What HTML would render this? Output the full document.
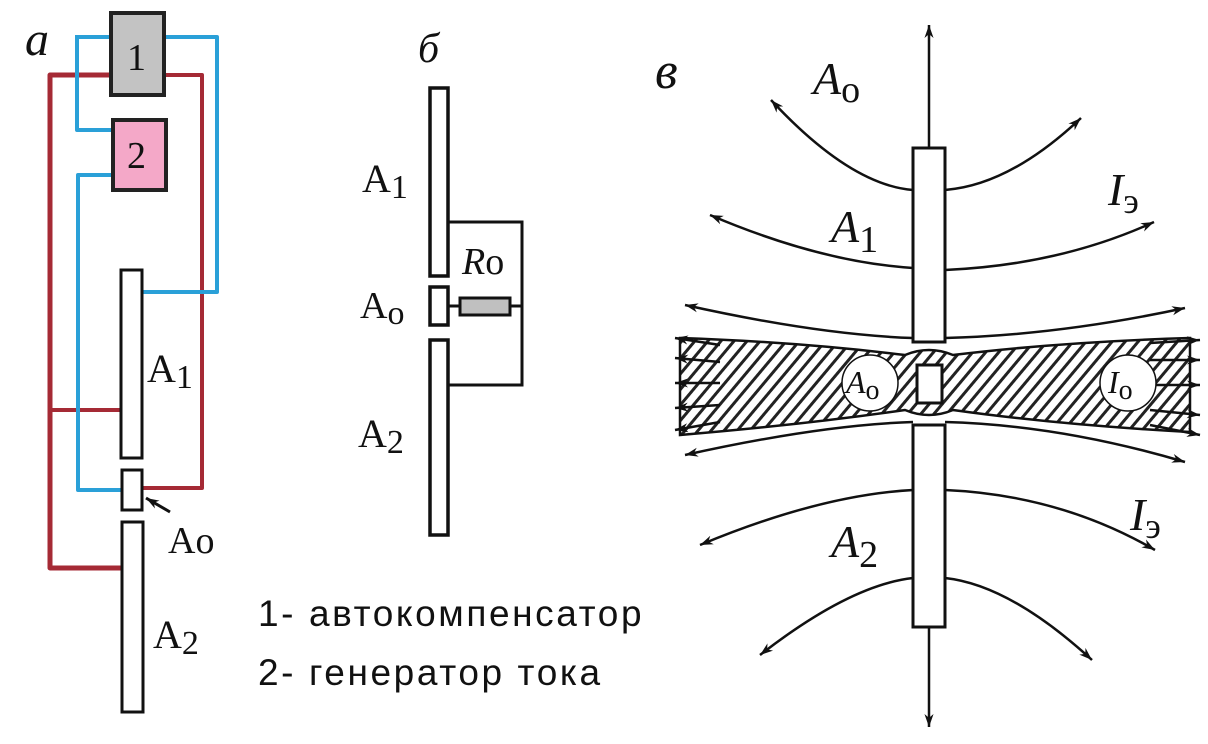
<!DOCTYPE html>
<html><head><meta charset="utf-8"><style>
html,body{margin:0;padding:0;background:#fff}
svg{display:block}
text{font-family:"Liberation Serif",serif;fill:#111}
text.s{font-family:"Liberation Sans",sans-serif}
</style></head><body>
<svg width="1208" height="744" viewBox="0 0 1208 744" xmlns="http://www.w3.org/2000/svg">
<defs>
<marker id="ar" viewBox="0 0 10 10" refX="10" refY="5" markerWidth="17" markerHeight="13" orient="auto-start-reverse" markerUnits="userSpaceOnUse"><path d="M0,1.5 L10,5 L0,8.5 L3,5 Z" fill="#111"/></marker>
<pattern id="hat" width="10" height="10" patternUnits="userSpaceOnUse" patternTransform="rotate(40)">
<rect width="10" height="10" fill="#fff"/><rect x="0" y="0" width="3" height="10" fill="#222"/></pattern>
</defs>

<!-- Panel a -->
<text x="25" y="55" font-size="48" font-style="italic">a</text>
<g fill="none" stroke-linejoin="round">
<polyline points="111,75 50,75 50,568 122,568" stroke="#a52a35" stroke-width="5"/>
<polyline points="164,75 202,75 202,488 142,488" stroke="#a52a35" stroke-width="4"/>
<line x1="50" y1="410" x2="121" y2="410" stroke="#a52a35" stroke-width="4"/>
<polyline points="75,37 111,37" stroke="#2aa0d8" stroke-width="4"/>
<polyline points="164,37 217,37 217,292 142,292" stroke="#2aa0d8" stroke-width="4"/>
<polyline points="77,37 77,130 113,130" stroke="#2aa0d8" stroke-width="4"/>
<polyline points="113,175 78,175 78,490 122,490" stroke="#2aa0d8" stroke-width="4"/>
</g>
<rect x="111" y="13" width="53" height="82" fill="#c3c3c3" stroke="#222" stroke-width="4"/>
<text x="127" y="70" font-size="38">1</text>
<rect x="113" y="120" width="53" height="70" fill="#f4a8c8" stroke="#222" stroke-width="4"/>
<text x="127" y="168" font-size="38">2</text>
<rect x="121" y="270" width="21" height="188" fill="#fff" stroke="#111" stroke-width="3"/>
<rect x="122" y="470" width="20" height="40" fill="#fff" stroke="#111" stroke-width="3"/>
<rect x="122" y="522" width="21" height="190" fill="#fff" stroke="#111" stroke-width="3"/>
<text x="147" y="382" font-size="40">A<tspan font-size="34" dy="6">1</tspan></text>
<line x1="170" y1="512" x2="146" y2="498" stroke="#111" stroke-width="3" marker-end="url(#ar)"/>
<text x="168" y="553" font-size="38">Ao</text>
<text x="153" y="648" font-size="40">A<tspan font-size="34" dy="6">2</tspan></text>

<text class="s" x="258" y="626" font-size="37" letter-spacing="2.6">1- автокомпенсатор</text>
<text class="s" x="258" y="685" font-size="37" letter-spacing="2.6">2- генератор тока</text>

<!-- Panel b -->
<text x="418" y="62" font-size="42" font-style="italic">б</text>
<polyline points="448,222 522,222 522,385 448,385" fill="none" stroke="#111" stroke-width="3"/>
<line x1="448" y1="306" x2="460" y2="306" stroke="#111" stroke-width="3"/>
<line x1="510" y1="306" x2="522" y2="306" stroke="#111" stroke-width="3"/>
<rect x="460" y="298" width="50" height="17" fill="#c0c0c0" stroke="#111" stroke-width="3"/>
<rect x="430" y="88" width="18" height="188" fill="#fff" stroke="#111" stroke-width="3.5"/>
<rect x="430" y="287" width="18" height="38" fill="#fff" stroke="#111" stroke-width="3.5"/>
<rect x="430" y="340" width="18" height="195" fill="#fff" stroke="#111" stroke-width="3.5"/>
<text x="362" y="192" font-size="40">A<tspan font-size="34" dy="6">1</tspan></text>
<text x="462" y="274" font-size="38"><tspan font-style="italic">R</tspan>o</text>
<text x="360" y="318" font-size="38">A<tspan font-size="34" dy="6">o</tspan></text>
<text x="358" y="447" font-size="40">A<tspan font-size="34" dy="6">2</tspan></text>

<!-- Panel v -->
<text x="655" y="88" font-size="52" font-style="italic">в</text>
<line x1="929" y1="148" x2="929" y2="25" stroke="#111" stroke-width="2.5" marker-end="url(#ar)"/>
<line x1="929" y1="627" x2="929" y2="727" stroke="#111" stroke-width="2.5" marker-end="url(#ar)"/>
<path d="M680,338 Q800,342 905,355 Q929,345 953,355 Q1060,342 1190,338 L1190,432 Q1060,425 953,410 Q929,420 905,410 Q800,425 680,435 Z" fill="url(#hat)" stroke="#111" stroke-width="2.5"/>
<g fill="none" stroke="#111" stroke-width="2.5">
<path d="M771,100 Q850,185 913,190" marker-start="url(#ar)"/>
<path d="M945,190 Q1010,185 1081,118" marker-end="url(#ar)"/>
<path d="M710,215 Q820,262 913,268" marker-start="url(#ar)"/>
<path d="M945,270 Q1060,265 1154,222" marker-end="url(#ar)"/>
<path d="M685,305 Q820,335 913,338" marker-start="url(#ar)"/>
<path d="M945,338 Q1060,335 1185,308" marker-end="url(#ar)"/>
<path d="M685,455 Q820,425 913,422" marker-start="url(#ar)"/>
<path d="M945,422 Q1060,425 1185,462" marker-end="url(#ar)"/>
<path d="M700,545 Q820,495 913,490" marker-start="url(#ar)"/>
<path d="M945,490 Q1060,495 1155,550" marker-end="url(#ar)"/>
<path d="M760,655 Q850,585 913,578" marker-start="url(#ar)"/>
<path d="M945,578 Q1010,585 1092,660" marker-end="url(#ar)"/>
<path d="M675,338 L720,345" marker-start="url(#ar)"/>
<path d="M675,358 L720,362" marker-start="url(#ar)"/>
<path d="M675,383 L720,383" marker-start="url(#ar)"/>
<path d="M675,408 L720,405" marker-start="url(#ar)"/>
<path d="M675,430 L720,422" marker-start="url(#ar)"/>
<path d="M1150,343 L1200,340" marker-end="url(#ar)"/>
<path d="M1150,360 L1200,360" marker-end="url(#ar)"/>
<path d="M1150,385 L1200,385" marker-end="url(#ar)"/>
<path d="M1150,410 L1200,415" marker-end="url(#ar)"/>
<path d="M1150,425 L1200,435" marker-end="url(#ar)"/>
</g>
<rect x="913" y="148" width="32" height="194" fill="#fff" stroke="#111" stroke-width="3"/>
<rect x="913" y="425" width="32" height="202" fill="#fff" stroke="#111" stroke-width="3"/>
<rect x="917" y="365" width="25" height="38" fill="#fff" stroke="#111" stroke-width="3"/>
<circle cx="870" cy="383" r="28" fill="#fff" stroke="#111" stroke-width="1.5"/>
<text x="846" y="393" font-size="32" font-style="italic">A<tspan font-style="normal" font-size="28" dy="6">o</tspan></text>
<circle cx="1128" cy="383" r="28" fill="#fff" stroke="#111" stroke-width="1.5"/>
<text x="1108" y="393" font-size="32" font-style="italic">I<tspan font-style="normal" font-size="28" dy="6">o</tspan></text>
<text x="813" y="94" font-size="46" font-style="italic">A<tspan font-style="normal" font-size="38" dy="8">o</tspan></text>
<text x="831" y="242" font-size="46" font-style="italic">A<tspan font-style="normal" font-size="38" dy="10">1</tspan></text>
<text x="1108" y="205" font-size="46" font-style="italic">I<tspan font-style="normal" font-size="36" dy="8">э</tspan></text>
<text x="831" y="557" font-size="46" font-style="italic">A<tspan font-style="normal" font-size="38" dy="10">2</tspan></text>
<text x="1130" y="530" font-size="46" font-style="italic">I<tspan font-style="normal" font-size="36" dy="8">э</tspan></text>
</svg>
</body></html>
